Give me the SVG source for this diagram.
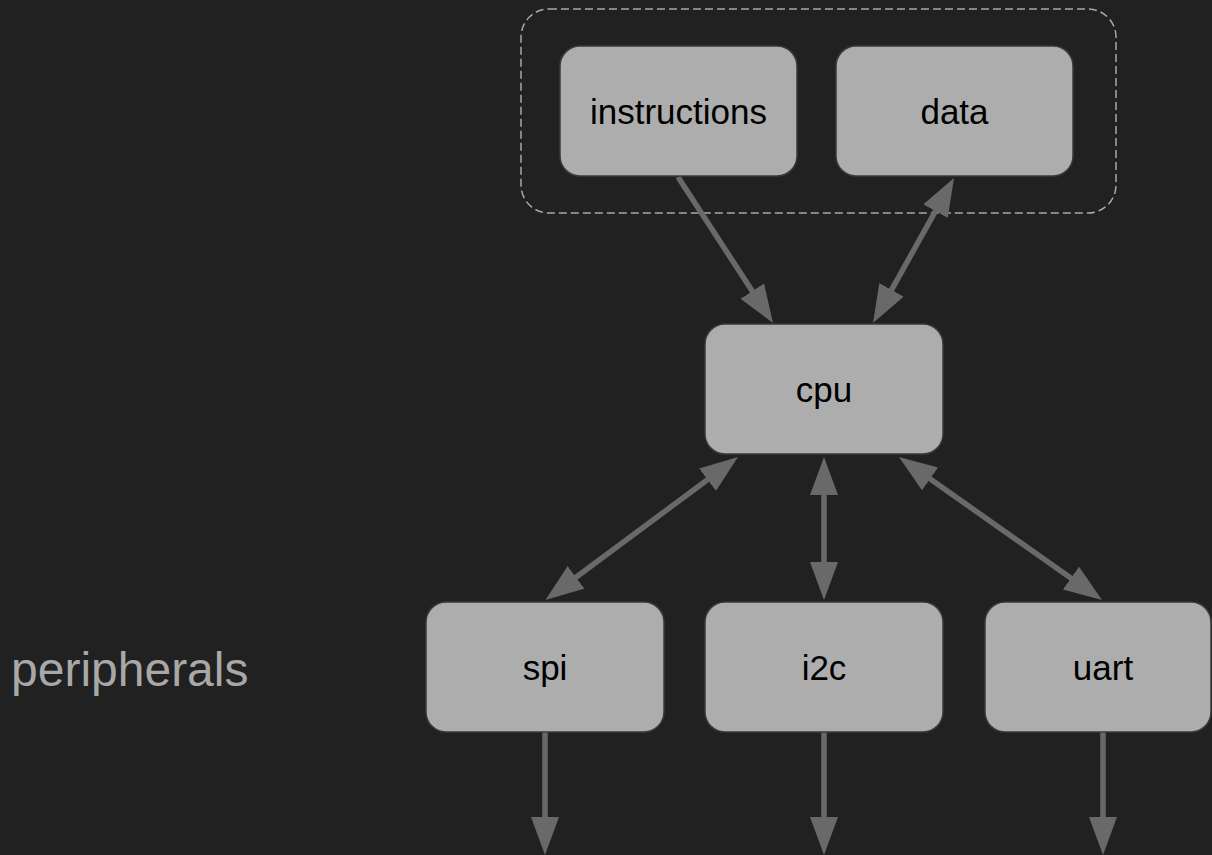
<svg xmlns="http://www.w3.org/2000/svg" width="1212" height="855" viewBox="0 0 1212 855">
  <defs>
    <style>
      .node rect { fill: #adadad; stroke: #3a3a3a; stroke-width: 1.5; }
      .node text { font-family: "Liberation Sans", Arial, sans-serif; font-size: 35px; fill: #000; text-anchor: middle; }
      .conn { stroke: #696969; stroke-width: 5.5; fill: none; }
      .group { fill: none; stroke: #a8a8a8; stroke-width: 1.5; stroke-dasharray: 8 4; }
      .label { font-family: "Liberation Sans", Arial, sans-serif; font-size: 48px; fill: #a8a8a8; }
    </style>
    <marker id="arrow" markerUnits="userSpaceOnUse" markerWidth="40" markerHeight="30" viewBox="0 0 40 30" refX="18" refY="14" orient="auto-start-reverse">
      <path d="M0,0 L38,14 L0,28 Z" fill="#696969"/>
    </marker>
  </defs>
  <rect x="0" y="0" width="1212" height="855" fill="#212121"/>

  <g id="memory-group">
    <rect class="group" x="521" y="9" width="595" height="204" rx="28" ry="28"/>
  </g>

  <text class="label" id="peripherals-label" x="11" y="686">peripherals</text>

  <g id="connectors">
    <line class="conn" x1="678" y1="177" x2="762.1" y2="306.2" marker-end="url(#arrow)"/>
    <line class="conn" x1="882.75" y1="305.54" x2="944.25" y2="195.46" marker-start="url(#arrow)" marker-end="url(#arrow)"/>
    <line class="conn" x1="721.95" y1="468.93" x2="561.55" y2="588.07" marker-start="url(#arrow)" marker-end="url(#arrow)"/>
    <line class="conn" x1="824" y1="477" x2="824" y2="580" marker-start="url(#arrow)" marker-end="url(#arrow)"/>
    <line class="conn" x1="915.35" y1="468.52" x2="1085.65" y2="588.48" marker-start="url(#arrow)" marker-end="url(#arrow)"/>
    <line class="conn" x1="545" y1="732" x2="545" y2="835" marker-end="url(#arrow)"/>
    <line class="conn" x1="824" y1="732" x2="824" y2="835" marker-end="url(#arrow)"/>
    <line class="conn" x1="1103" y1="732" x2="1103" y2="835" marker-end="url(#arrow)"/>
  </g>

  <g id="instructions" class="node">
    <rect x="560" y="46" width="237" height="130" rx="20" ry="20"/>
    <text x="678.5" y="123.5">instructions</text>
  </g>
  <g id="data" class="node">
    <rect x="836" y="46" width="237" height="130" rx="20" ry="20"/>
    <text x="954.5" y="123.5">data</text>
  </g>
  <g id="cpu" class="node">
    <rect x="705" y="324" width="238" height="130" rx="20" ry="20"/>
    <text x="824" y="401.5">cpu</text>
  </g>
  <g id="spi" class="node">
    <rect x="426" y="602" width="238" height="130" rx="20" ry="20"/>
    <text x="545" y="679.5">spi</text>
  </g>
  <g id="i2c" class="node">
    <rect x="705" y="602" width="238" height="130" rx="20" ry="20"/>
    <text x="824" y="679.5">i2c</text>
  </g>
  <g id="uart" class="node">
    <rect x="985" y="602" width="226" height="130" rx="20" ry="20"/>
    <text x="1103" y="679.5">uart</text>
  </g>
</svg>
